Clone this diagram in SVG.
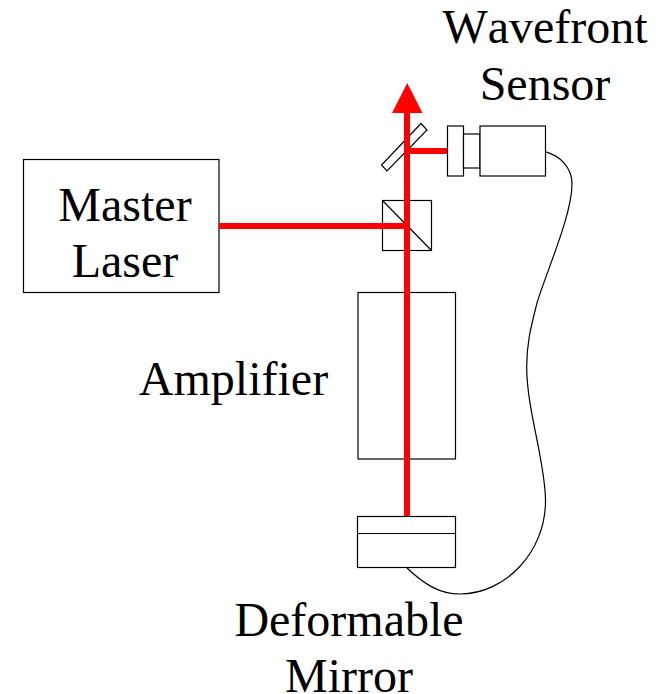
<svg xmlns="http://www.w3.org/2000/svg" width="660" height="694" viewBox="0 0 660 694">
<style>
.s{fill:#fff;stroke:#000;stroke-width:1.2}
.n{fill:none;stroke:#000;stroke-width:1.2}
.b{fill:none;stroke:#f00;stroke-width:6}
text{font-family:"Liberation Serif","Times New Roman",serif;font-size:48px;font-kerning:none;fill:#000;text-anchor:middle}
</style>
<rect width="660" height="694" fill="#fff"/>
<g id="master-laser"><rect class="s" x="23.500" y="159.500" width="195.500" height="133"/><text x="125" y="220.500">Master</text><text x="125" y="276.500">Laser</text></g>
<g id="amplifier"><rect class="s" x="358" y="292.500" width="97.500" height="166.500"/><text x="233.500" y="395">Amplifier</text></g>
<g id="deformable-mirror"><rect class="s" x="357.500" y="516.500" width="98" height="51"/><line class="n" x1="357.500" y1="533.500" x2="455.500" y2="533.500"/><text x="349" y="635.500">Deformable</text><text x="349" y="691.500">Mirror</text></g>
<g id="beam-splitter"><rect class="s" x="382.500" y="200.500" width="49" height="50"/><line class="n" x1="382.500" y1="200.500" x2="431.500" y2="250.500"/></g>
<g id="pickoff-mirror"><polygon class="s" points="421,123.500 427,130 387,171 381.500,165"/></g>
<g id="wavefront-sensor"><rect class="s" x="447.500" y="126" width="16" height="50"/><rect class="s" x="463.500" y="134" width="16.500" height="34"/><rect class="s" x="480" y="126" width="65.500" height="50"/><text x="545" y="43">Wavefront</text><text x="545" y="100">Sensor</text></g>
<g id="connectors">
<path class="b" d="M407 516V108"/>
<polygon points="407.300,83 422.500,113 392,113" fill="#f00"/>
<path class="b" d="M219 226H407M407 151H447"/>
<path class="n" d="M545 151.700C560 156 572 167 572 184C572 215 547 270 537 303C530 330 526.700 345 526.700 367C526.700 410 545 460 545.500 500C546 552 505 594 460 594C440 594 425 585 407 568"/>
</g>
</svg>
